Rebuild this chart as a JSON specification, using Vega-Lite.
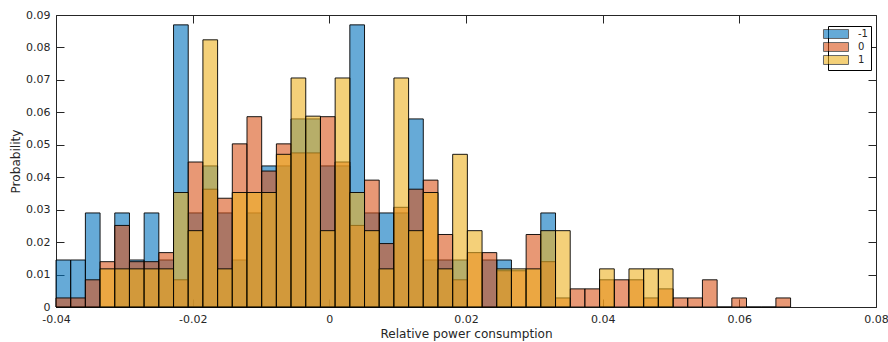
{
  "$schema": "https://vega.github.io/schema/vega-lite/v6.json",
  "width": 820,
  "height": 292,
  "autosize": {"type": "none"},
  "padding": {"left": 56, "top": 15, "right": 12, "bottom": 35},
  "background": "white",
  "config": {
    "font": "DejaVu Sans",
    "view": {"stroke": null},
    "axis": {
      "grid": false,
      "domainColor": "#262626",
      "tickColor": "#262626",
      "labelColor": "#262626",
      "titleColor": "#262626",
      "labelFontSize": 11,
      "titleFontSize": 12.1,
      "titleFontWeight": "normal",
      "tickSize": -8,
      "domainWidth": 1,
      "tickWidth": 1,
      "labelFlush": false
    }
  },
  "data": {
    "values": [
      {"s": "-1", "x0": -0.04000, "x1": -0.03785, "p": 0.01449},
      {"s": "-1", "x0": -0.03785, "x1": -0.03570, "p": 0.01449},
      {"s": "-1", "x0": -0.03570, "x1": -0.03355, "p": 0.02899},
      {"s": "-1", "x0": -0.03140, "x1": -0.02925, "p": 0.02899},
      {"s": "-1", "x0": -0.02925, "x1": -0.02710, "p": 0.01449},
      {"s": "-1", "x0": -0.02710, "x1": -0.02495, "p": 0.02899},
      {"s": "-1", "x0": -0.02495, "x1": -0.02280, "p": 0.01449},
      {"s": "-1", "x0": -0.02280, "x1": -0.02065, "p": 0.08696},
      {"s": "-1", "x0": -0.02065, "x1": -0.01850, "p": 0.02899},
      {"s": "-1", "x0": -0.01850, "x1": -0.01635, "p": 0.04348},
      {"s": "-1", "x0": -0.01635, "x1": -0.01420, "p": 0.02899},
      {"s": "-1", "x0": -0.01420, "x1": -0.01205, "p": 0.01449},
      {"s": "-1", "x0": -0.01205, "x1": -0.00990, "p": 0.02899},
      {"s": "-1", "x0": -0.00990, "x1": -0.00775, "p": 0.04348},
      {"s": "-1", "x0": -0.00775, "x1": -0.00560, "p": 0.04348},
      {"s": "-1", "x0": -0.00560, "x1": -0.00345, "p": 0.05797},
      {"s": "-1", "x0": -0.00345, "x1": -0.00130, "p": 0.05797},
      {"s": "-1", "x0": -0.00130, "x1": 0.00085, "p": 0.04348},
      {"s": "-1", "x0": 0.00085, "x1": 0.00300, "p": 0.04348},
      {"s": "-1", "x0": 0.00300, "x1": 0.00515, "p": 0.08696},
      {"s": "-1", "x0": 0.00515, "x1": 0.00730, "p": 0.02899},
      {"s": "-1", "x0": 0.00730, "x1": 0.00945, "p": 0.02899},
      {"s": "-1", "x0": 0.00945, "x1": 0.01160, "p": 0.02899},
      {"s": "-1", "x0": 0.01160, "x1": 0.01375, "p": 0.05797},
      {"s": "-1", "x0": 0.01375, "x1": 0.01590, "p": 0.01449},
      {"s": "-1", "x0": 0.01590, "x1": 0.01805, "p": 0.01449},
      {"s": "-1", "x0": 0.01805, "x1": 0.02020, "p": 0.01449},
      {"s": "-1", "x0": 0.02235, "x1": 0.02450, "p": 0.01449},
      {"s": "-1", "x0": 0.02450, "x1": 0.02665, "p": 0.01449},
      {"s": "-1", "x0": 0.03095, "x1": 0.03310, "p": 0.02899},

      {"s": "0", "x0": -0.04000, "x1": -0.03785, "p": 0.00279},
      {"s": "0", "x0": -0.03785, "x1": -0.03570, "p": 0.00279},
      {"s": "0", "x0": -0.03570, "x1": -0.03355, "p": 0.00838},
      {"s": "0", "x0": -0.03355, "x1": -0.03140, "p": 0.01397},
      {"s": "0", "x0": -0.03140, "x1": -0.02925, "p": 0.02514},
      {"s": "0", "x0": -0.02925, "x1": -0.02710, "p": 0.01397},
      {"s": "0", "x0": -0.02710, "x1": -0.02495, "p": 0.01397},
      {"s": "0", "x0": -0.02495, "x1": -0.02280, "p": 0.01676},
      {"s": "0", "x0": -0.02280, "x1": -0.02065, "p": 0.00838},
      {"s": "0", "x0": -0.02065, "x1": -0.01850, "p": 0.04469},
      {"s": "0", "x0": -0.01850, "x1": -0.01635, "p": 0.03631},
      {"s": "0", "x0": -0.01635, "x1": -0.01420, "p": 0.03352},
      {"s": "0", "x0": -0.01420, "x1": -0.01205, "p": 0.05028},
      {"s": "0", "x0": -0.01205, "x1": -0.00990, "p": 0.05866},
      {"s": "0", "x0": -0.00990, "x1": -0.00775, "p": 0.04190},
      {"s": "0", "x0": -0.00775, "x1": -0.00560, "p": 0.05028},
      {"s": "0", "x0": -0.00560, "x1": -0.00345, "p": 0.04749},
      {"s": "0", "x0": -0.00345, "x1": -0.00130, "p": 0.04749},
      {"s": "0", "x0": -0.00130, "x1": 0.00085, "p": 0.05866},
      {"s": "0", "x0": 0.00085, "x1": 0.00300, "p": 0.04469},
      {"s": "0", "x0": 0.00300, "x1": 0.00515, "p": 0.02514},
      {"s": "0", "x0": 0.00515, "x1": 0.00730, "p": 0.03911},
      {"s": "0", "x0": 0.00730, "x1": 0.00945, "p": 0.01955},
      {"s": "0", "x0": 0.00945, "x1": 0.01160, "p": 0.03073},
      {"s": "0", "x0": 0.01160, "x1": 0.01375, "p": 0.03631},
      {"s": "0", "x0": 0.01375, "x1": 0.01590, "p": 0.03911},
      {"s": "0", "x0": 0.01590, "x1": 0.01805, "p": 0.02235},
      {"s": "0", "x0": 0.01805, "x1": 0.02020, "p": 0.00838},
      {"s": "0", "x0": 0.02020, "x1": 0.02235, "p": 0.01676},
      {"s": "0", "x0": 0.02235, "x1": 0.02450, "p": 0.01676},
      {"s": "0", "x0": 0.02450, "x1": 0.02665, "p": 0.01117},
      {"s": "0", "x0": 0.02665, "x1": 0.02880, "p": 0.01117},
      {"s": "0", "x0": 0.02880, "x1": 0.03095, "p": 0.02235},
      {"s": "0", "x0": 0.03095, "x1": 0.03310, "p": 0.01397},
      {"s": "0", "x0": 0.03310, "x1": 0.03525, "p": 0.00279},
      {"s": "0", "x0": 0.03525, "x1": 0.03740, "p": 0.00559},
      {"s": "0", "x0": 0.03740, "x1": 0.03955, "p": 0.00559},
      {"s": "0", "x0": 0.03955, "x1": 0.04170, "p": 0.00838},
      {"s": "0", "x0": 0.04170, "x1": 0.04385, "p": 0.00838},
      {"s": "0", "x0": 0.04385, "x1": 0.04600, "p": 0.00838},
      {"s": "0", "x0": 0.04600, "x1": 0.04815, "p": 0.00279},
      {"s": "0", "x0": 0.04815, "x1": 0.05030, "p": 0.00559},
      {"s": "0", "x0": 0.05030, "x1": 0.05245, "p": 0.00279},
      {"s": "0", "x0": 0.05245, "x1": 0.05460, "p": 0.00279},
      {"s": "0", "x0": 0.05460, "x1": 0.05675, "p": 0.00838},
      {"s": "0", "x0": 0.05675, "x1": 0.05890, "p": 0},
      {"s": "0", "x0": 0.05890, "x1": 0.06105, "p": 0.00279},
      {"s": "0", "x0": 0.06105, "x1": 0.06320, "p": 0},
      {"s": "0", "x0": 0.06320, "x1": 0.06535, "p": 0},
      {"s": "0", "x0": 0.06535, "x1": 0.06750, "p": 0.00279},

      {"s": "1", "x0": -0.03355, "x1": -0.03140, "p": 0.01176},
      {"s": "1", "x0": -0.03140, "x1": -0.02925, "p": 0.01176},
      {"s": "1", "x0": -0.02925, "x1": -0.02710, "p": 0.01176},
      {"s": "1", "x0": -0.02710, "x1": -0.02495, "p": 0.01176},
      {"s": "1", "x0": -0.02495, "x1": -0.02280, "p": 0.01176},
      {"s": "1", "x0": -0.02280, "x1": -0.02065, "p": 0.03529},
      {"s": "1", "x0": -0.02065, "x1": -0.01850, "p": 0.02353},
      {"s": "1", "x0": -0.01850, "x1": -0.01635, "p": 0.08235},
      {"s": "1", "x0": -0.01635, "x1": -0.01420, "p": 0.01176},
      {"s": "1", "x0": -0.01420, "x1": -0.01205, "p": 0.03529},
      {"s": "1", "x0": -0.01205, "x1": -0.00990, "p": 0.03529},
      {"s": "1", "x0": -0.00990, "x1": -0.00775, "p": 0.03529},
      {"s": "1", "x0": -0.00775, "x1": -0.00560, "p": 0.04706},
      {"s": "1", "x0": -0.00560, "x1": -0.00345, "p": 0.07059},
      {"s": "1", "x0": -0.00345, "x1": -0.00130, "p": 0.05882},
      {"s": "1", "x0": -0.00130, "x1": 0.00085, "p": 0.02353},
      {"s": "1", "x0": 0.00085, "x1": 0.00300, "p": 0.07059},
      {"s": "1", "x0": 0.00300, "x1": 0.00515, "p": 0.03529},
      {"s": "1", "x0": 0.00515, "x1": 0.00730, "p": 0.02353},
      {"s": "1", "x0": 0.00730, "x1": 0.00945, "p": 0.01176},
      {"s": "1", "x0": 0.00945, "x1": 0.01160, "p": 0.07059},
      {"s": "1", "x0": 0.01160, "x1": 0.01375, "p": 0.02353},
      {"s": "1", "x0": 0.01375, "x1": 0.01590, "p": 0.03529},
      {"s": "1", "x0": 0.01590, "x1": 0.01805, "p": 0.01176},
      {"s": "1", "x0": 0.01805, "x1": 0.02020, "p": 0.04706},
      {"s": "1", "x0": 0.02020, "x1": 0.02235, "p": 0.02353},
      {"s": "1", "x0": 0.02450, "x1": 0.02665, "p": 0.01176},
      {"s": "1", "x0": 0.02665, "x1": 0.02880, "p": 0.01176},
      {"s": "1", "x0": 0.02880, "x1": 0.03095, "p": 0.01176},
      {"s": "1", "x0": 0.03095, "x1": 0.03310, "p": 0.02353},
      {"s": "1", "x0": 0.03310, "x1": 0.03525, "p": 0.02353},
      {"s": "1", "x0": 0.03955, "x1": 0.04170, "p": 0.01176},
      {"s": "1", "x0": 0.04385, "x1": 0.04600, "p": 0.01176},
      {"s": "1", "x0": 0.04600, "x1": 0.04815, "p": 0.01176},
      {"s": "1", "x0": 0.04815, "x1": 0.05030, "p": 0.01176}
    ]
  },
  "layer": [
    {
      "mark": {"type": "bar", "fillOpacity": 0.6, "stroke": "black", "strokeWidth": 1, "strokeOpacity": 0.9},
      "encoding": {
        "x": {
          "field": "x0", "type": "quantitative",
          "scale": {"domain": [-0.04, 0.08], "nice": false, "zero": false},
          "axis": {
            "orient": "bottom",
            "values": [-0.04, -0.02, 0, 0.02, 0.04, 0.06, 0.08],
            "labelExpr": "replace(format(datum.value, '~g'), '\u2212', '-')",
            "labelPadding": 14,
            "title": "Relative power consumption",
            "titlePadding": 3
          }
        },
        "x2": {"field": "x1"},
        "y": {
          "field": "p", "type": "quantitative", "stack": null,
          "scale": {"domain": [0, 0.09], "nice": false},
          "axis": {
            "orient": "left",
            "values": [0, 0.01, 0.02, 0.03, 0.04, 0.05, 0.06, 0.07, 0.08, 0.09],
            "labelExpr": "format(datum.value, '~g')",
            "labelPadding": 14,
            "title": "Probability",
            "titlePadding": 3
          }
        },
        "y2": {"datum": 0},
        "color": {
          "field": "s", "type": "nominal",
          "scale": {"domain": ["-1", "0", "1"], "range": ["#0072BD", "#D95319", "#EDB120"]},
          "legend": {
            "title": null,
            "orient": "none",
            "legendX": 772,
            "legendY": 11,
            "symbolType": "M-2.8,-1H2.8V1H-2.8Z",
            "symbolSize": 80,
            "symbolOpacity": 0.6,
            "symbolStrokeColor": "black",
            "symbolStrokeWidth": 1,
            "labelFontSize": 10,
            "labelColor": "#262626",
            "labelOffset": 17,
            "rowPadding": -1,
            "padding": 3,
            "strokeColor": "black",
            "fillColor": "white"
          }
        }
      }
    },
    {
      "mark": {"type": "point", "opacity": 0},
      "encoding": {
        "x": {
          "field": "x0", "type": "quantitative",
          "axis": {"orient": "top", "values": [-0.04, -0.02, 0, 0.02, 0.04, 0.06, 0.08], "labels": false, "title": null}
        },
        "y": {
          "field": "p", "type": "quantitative",
          "axis": {"orient": "right", "values": [0, 0.01, 0.02, 0.03, 0.04, 0.05, 0.06, 0.07, 0.08, 0.09], "labels": false, "title": null}
        }
      }
    }
  ],
  "resolve": {"axis": {"x": "independent", "y": "independent"}}
}
